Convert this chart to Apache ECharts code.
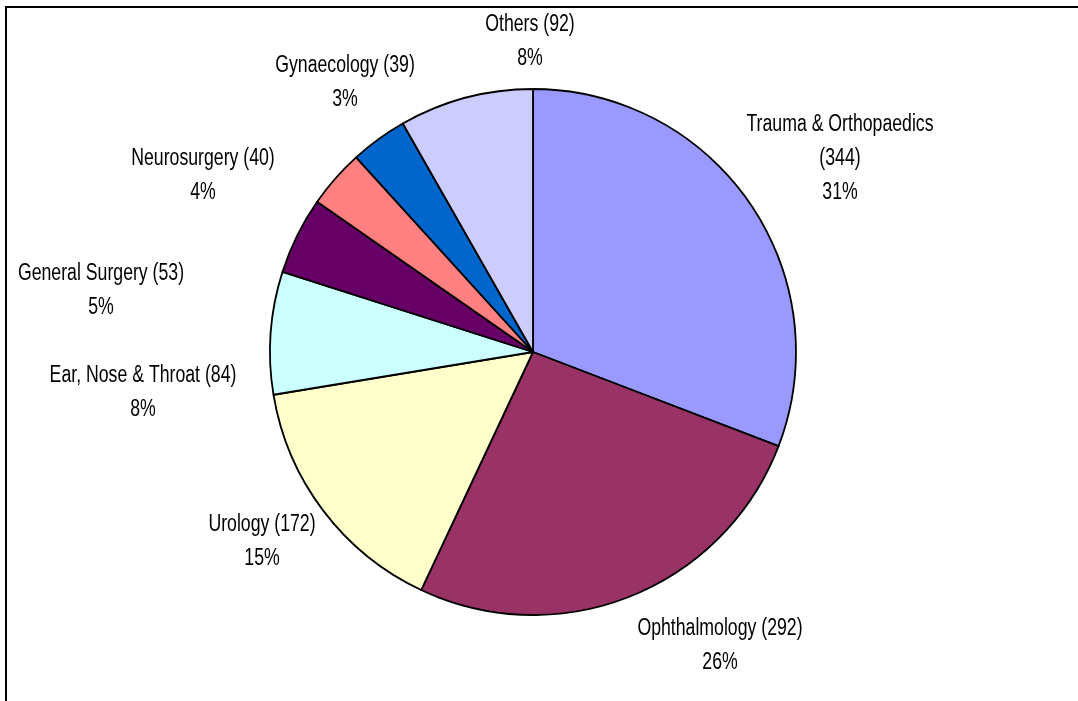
<!DOCTYPE html>
<html>
<head>
<meta charset="utf-8">
<script src="https://cdn.jsdelivr.net/npm/echarts@6/dist/echarts.min.js"></script>
<style>
  html, body { margin: 0; padding: 0; background: #fff; }
  #main { width: 1078px; height: 701px; }
</style>
</head>
<body>
<div id="main"></div>
<script>
// specialties, clockwise from 12 o'clock
var specialties = ['Trauma & Orthopaedics', 'Ophthalmology', 'Urology', 'Ear, Nose & Throat',
  'General Surgery', 'Neurosurgery', 'Gynaecology', 'Others'];
var counts = [344, 292, 172, 84, 53, 40, 39, 92];
var colors = ['#9999FF', '#993366', '#FFFFCC', '#CCFFFF', '#660066', '#FF8080', '#0066CC', '#CCCCFF'];

// where Excel dropped each label (centre of the text block)
var labelPos = [[840, 158], [720, 645], [262, 541], [143, 392], [101, 290], [203, 175], [345, 82], [530, 41]];

var total = counts.reduce(function (a, b) { return a + b; }, 0);

var myChart = echarts.init(document.getElementById('main'));

var pieData = specialties.map(function (name, i) {
  return { name: name, value: counts[i], itemStyle: { color: colors[i] } };
});

// Excel's labels are tall and narrow, so they are drawn as stretched text
var labels = specialties.map(function (name, i) {
  var pct = Math.round(counts[i] / total * 100) + '%';
  var txt = name.length > 20
    ? name + '\n(' + counts[i] + ')\n' + pct
    : name + ' (' + counts[i] + ')\n' + pct;
  return {
    type: 'text',
    x: labelPos[i][0],
    y: labelPos[i][1],
    scaleY: 1.4,
    silent: true,
    style: {
      text: txt,
      x: 0, y: 0,
      align: 'center',
      verticalAlign: 'middle',
      font: '17.7px "Liberation Sans"',
      lineHeight: 24.3,
      fill: '#000'
    }
  };
});

myChart.setOption({
  animation: false,
  backgroundColor: '#fff',
  graphic: [
    {
      type: 'rect',
      shape: { x: 6, y: 7, width: 1100, height: 720 },
      style: { fill: 'none', stroke: '#000', lineWidth: 2 }
    },
    {
      type: 'text',
      x: 192, y: -9,
      scaleY: 1.4,
      style: { text: '2009', x: 0, y: 0, align: 'center', verticalAlign: 'middle',
        font: 'bold 17px "Liberation Serif"', fill: '#000' }
    }
  ].concat(labels),
  series: [
    {
      type: 'pie',
      center: [533, 352],
      radius: 263,
      startAngle: 90,
      clockwise: true,
      data: pieData,
      itemStyle: { borderColor: '#000', borderWidth: 1.8 },
      label: { show: false },
      labelLine: { show: false },
      emphasis: { disabled: true }
    }
  ]
});
</script>
</body>
</html>
